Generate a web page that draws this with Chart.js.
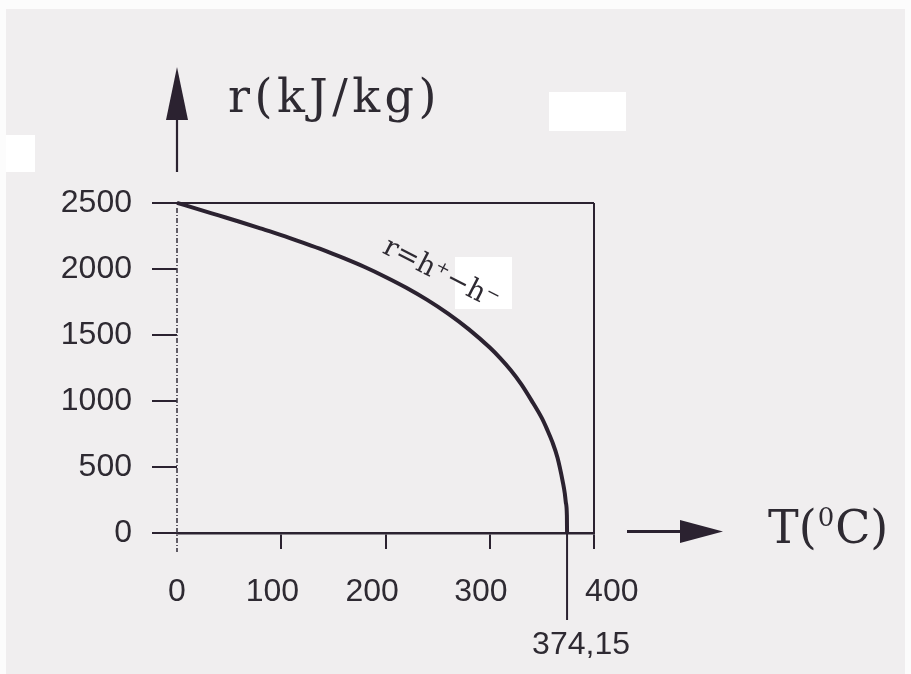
<!DOCTYPE html>
<html><head><meta charset="utf-8">
<script src="https://cdn.jsdelivr.net/npm/chart.js@4/dist/chart.umd.min.js"></script>
<style>html,body{margin:0;padding:0;background:#fff;overflow:hidden}canvas{display:block}</style>
</head><body><canvas id="c" width="911" height="674"></canvas>
<script>
// ---- data ----
const temperatures = [0, 20, 40, 60, 80, 100, 120, 140, 160, 180, 200, 220, 240, 260, 280, 300, 310, 320, 330, 340, 350, 355, 360, 365, 370, 372, 373, 374, 374.15];
const latentHeat   = [2501, 2454, 2406, 2358, 2308, 2257, 2202, 2145, 2082, 2015, 1940, 1858, 1766, 1662, 1543, 1405, 1325, 1235, 1130, 1005, 870, 785, 690, 570, 390, 300, 230, 130, 0];
const xTickValues = [0, 100, 200, 300, 400];
const yTickValues = [0, 500, 1000, 1500, 2000, 2500];
const criticalTemperature = 374.15;
const criticalLabel = '374,15';
const yTitle = 'r(kJ/kg)';
const xTitleParts = ['T(', '0', 'C)'];
const curveLabel = 'r=h\u207A\u2212h\u207B';

const INK = '#2b2230';
const TEXT = '#2e2a32';

const points = temperatures.map((t, i) => ({ x: t, y: latentHeat[i] }));

// typeset label nudges of the original (in spaces: negative = left, positive = right)
const xLabelNudge = { 0: 0, 100: -2, 200: -3, 300: -2, 400: 4 };
function nudgedLabel(v) {
  const n = xLabelNudge[v] || 0;
  const pad = ' '.repeat(Math.abs(n));
  return n < 0 ? String(v) + pad : pad + String(v);
}

const deco = {
  id: 'deco',
  beforeDraw(chart) {
    const c = chart.ctx;
    c.save();
    c.fillStyle = '#fcfcfc'; c.fillRect(0, 0, 911, 674);
    c.fillStyle = '#f0eeef'; c.fillRect(6, 9, 899, 665);
    c.fillStyle = '#ffffff';
    c.fillRect(549, 92, 77, 39);
    c.fillRect(6, 135, 29, 37);
    c.fillRect(455, 257, 57, 52);
    c.restore();
  },
  afterDraw(chart) {
    const c = chart.ctx, x = chart.scales.x, y = chart.scales.y;
    const x0 = x.getPixelForValue(0), xMax = x.getPixelForValue(400);
    const y0 = y.getPixelForValue(0), yTop = y.getPixelForValue(2500);
    c.save();
    // dotted y axis
    c.strokeStyle = '#3e3844'; c.lineWidth = 1.6; c.setLineDash([5, 2, 1, 2]);
    c.beginPath(); c.moveTo(x0, yTop + 5); c.lineTo(x0, y0 + 19); c.stroke();
    c.setLineDash([]);
    // critical temperature line
    const xc = x.getPixelForValue(criticalTemperature);
    c.strokeStyle = INK; c.lineWidth = 2;
    c.beginPath(); c.moveTo(xc, y0 - 15); c.lineTo(xc, y0 + 87); c.stroke();
    // y arrow
    c.fillStyle = INK; c.lineWidth = 2.2;
    c.beginPath(); c.moveTo(x0, yTop - 31); c.lineTo(x0, yTop - 86); c.stroke();
    c.beginPath(); c.moveTo(x0, yTop - 136); c.lineTo(x0 + 11, yTop - 83); c.lineTo(x0 - 11, yTop - 83); c.closePath(); c.fill();
    // x arrow
    const ya = y0 - 1.5;
    c.beginPath(); c.moveTo(xMax + 33, ya); c.lineTo(xMax + 88, ya); c.lineWidth = 3; c.stroke();
    c.beginPath(); c.moveTo(xMax + 129, ya); c.lineTo(xMax + 86, ya - 11.5); c.lineTo(xMax + 86, ya + 11.5); c.closePath(); c.fill();
    // titles
    c.fillStyle = TEXT;
    c.textBaseline = 'middle'; c.textAlign = 'left';
    c.font = '46px "DejaVu Serif"';
    try { c.letterSpacing = '4.5px'; } catch (e) {}
    c.fillText(yTitle, x0 + 51, yTop - 103);
    try { c.letterSpacing = '0px'; } catch (e) {}
    // x title with raised small zero
    let tx = xMax + 174;
    const ty = y0 - 2;
    c.font = '46px "DejaVu Serif"';
    c.fillText(xTitleParts[0], tx, ty);
    tx += c.measureText(xTitleParts[0]).width + 1;
    c.font = '26px "DejaVu Serif"';
    c.fillText(xTitleParts[1], tx, ty - 12);
    tx += c.measureText(xTitleParts[1]).width + 1;
    c.font = '46px "DejaVu Serif"';
    c.fillText(xTitleParts[2], tx, ty);
    // critical label
    c.font = '32px "Liberation Sans"';
    c.textAlign = 'center';
    c.fillText(criticalLabel, xc + 14, y0 + 112);
    // curve label
    c.translate(x.getPixelForValue(253), y.getPixelForValue(1960));
    c.rotate(27 * Math.PI / 180);
    c.font = '28px "DejaVu Serif"';
    c.fillText(curveLabel, 0, 0);
    c.restore();
  }
};

new Chart(document.getElementById('c'), {
  type: 'line',
  data: {
    datasets: [{
      data: points,
      borderColor: INK,
      borderWidth: 4,
      pointRadius: 0,
      cubicInterpolationMode: 'monotone',
      clip: false
    }]
  },
  options: {
    responsive: false,
    animation: false,
    events: [],
    layout: { padding: { left: 0, top: 203, right: 317, bottom: 0 } },
    plugins: { legend: { display: false }, tooltip: { enabled: false } },
    scales: {
      x: {
        type: 'linear', min: 0, max: 400,
        afterBuildTicks: s => { s.ticks = xTickValues.map(v => ({ value: v })); },
        afterFit: s => { s.height = 141; },
        border: { display: true, color: INK, width: 2.5 },
        grid: {
          drawOnChartArea: true,
          color: ctx => (ctx.tick && ctx.tick.value === 400) ? INK : 'rgba(0,0,0,0)',
          tickColor: ctx => (ctx.tick && ctx.tick.value === 0) ? 'rgba(0,0,0,0)' : INK,
          lineWidth: 2,
          tickLength: 16
        },
        ticks: { color: TEXT, font: { family: 'Liberation Sans', size: 32 }, padding: 24, maxRotation: 0, callback: v => nudgedLabel(v) }
      },
      y: {
        type: 'linear', min: 0, max: 2500,
        afterBuildTicks: s => { s.ticks = yTickValues.map(v => ({ value: v })); },
        afterFit: s => { s.width = 177; },
        border: { display: false },
        grid: {
          drawOnChartArea: true,
          color: ctx => (ctx.tick && ctx.tick.value === 2500) ? INK : 'rgba(0,0,0,0)',
          tickColor: INK,
          lineWidth: 2,
          tickLength: 25
        },
        ticks: { color: TEXT, font: { family: 'Liberation Sans', size: 32 }, padding: 20, callback: v => String(v) }
      }
    }
  },
  plugins: [deco]
});
</script>
</body></html>
